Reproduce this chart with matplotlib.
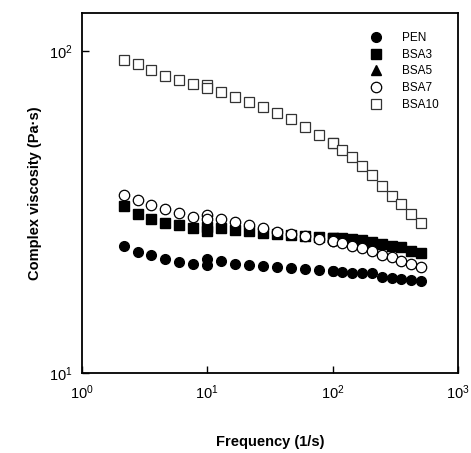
import matplotlib
matplotlib.use("Agg")
import matplotlib.pyplot as plt
from matplotlib.ticker import LogLocator, NullLocator

plt.rcParams['font.family'] = ['Liberation Sans', 'DejaVu Sans']
plt.rcParams['mathtext.fontset'] = 'custom'
plt.rcParams['mathtext.rm'] = 'Liberation Sans'

# three frequency sweeps: 2-10, 10-100, 100-500 1/s
freq = [2.15, 2.78, 3.59, 4.64, 5.99, 7.74, 10.0,
        10.0, 12.9, 16.7, 21.5, 27.8, 35.9, 46.4, 59.9, 77.4, 100.0,
        100.0, 120, 144, 173, 208, 250, 300, 355, 421, 506]

pen = [24.9, 23.8, 23.2, 22.6, 22.2, 21.8, 22.6,
       21.7, 22.3, 21.8, 21.7, 21.5, 21.4, 21.25, 21.05, 20.9, 20.75,
       20.8, 20.6, 20.5, 20.5, 20.4, 19.9, 19.7, 19.6, 19.5, 19.3]

bsa3 = [33.1, 31.1, 30.2, 29.3, 28.8, 28.3, 28.5,
        27.7, 28.2, 27.9, 27.6, 27.3, 27.1, 26.9, 26.7, 26.5, 26.3,
        26.3, 26.2, 26.05, 25.9, 25.6, 25.2, 24.9, 24.6, 24.0, 23.6]

bsa5 = []  # only shown in legend, no visible points

bsa7 = [35.7, 34.5, 33.3, 32.3, 31.5, 30.6, 31.0,
        30.2, 30.1, 29.5, 28.8, 28.2, 27.5, 27.0, 26.6, 26.1, 25.7,
        25.7, 25.3, 24.8, 24.4, 24.0, 23.3, 22.9, 22.3, 21.8, 21.4]

bsa10 = [93.8, 90.9, 87.4, 83.8, 81.2, 79.0, 78.5,
         76.5, 74.8, 72.1, 69.6, 66.8, 64.1, 61.4, 58.2, 54.8, 51.7,
         51.7, 49.3, 46.8, 44.0, 41.2, 38.1, 35.6, 33.4, 31.3, 29.3]

fig = plt.figure(figsize=(4.71, 4.53), dpi=100)
ax = fig.add_axes([0.174, 0.176, 0.798, 0.795])

ax.plot(freq, pen, 'o', color='black', markersize=7, linestyle='none', label='PEN')
ax.plot(freq, bsa3, 's', color='black', markersize=6.5, linestyle='none', label='BSA3')
ax.plot(bsa5, bsa5, '^', color='black', markersize=7, linestyle='none', label='BSA5')
ax.plot(freq, bsa7, 'o', mfc='white', mec='black', mew=0.9, markersize=7.5,
        linestyle='none', label='BSA7')
ax.plot(freq, bsa10, 's', mfc='white', mec='#333333', mew=0.9, markersize=7,
        linestyle='none', label='BSA10')

ax.set_xscale('log')
ax.set_yscale('log')
ax.set_xlim(1, 1000)
ax.set_ylim(10, 131)
ax.xaxis.set_major_locator(LogLocator(base=10))
ax.yaxis.set_major_locator(LogLocator(base=10))
ax.xaxis.set_minor_locator(NullLocator())
ax.yaxis.set_minor_locator(NullLocator())
ax.tick_params(direction='in', length=5, width=1, labelsize=10.5, pad=7)

for s in ax.spines.values():
    s.set_linewidth(1.3)

ax.set_xlabel('Frequency (1/s)', fontsize=10.5, fontweight='bold', labelpad=24)
ax.set_ylabel('Complex viscosity (Pa·s)', fontsize=10.5, fontweight='bold', labelpad=5)

ax.legend(loc='upper right', frameon=False, fontsize=8.5, handletextpad=1.2,
          labelspacing=0.4, borderaxespad=1.2)

fig.savefig('out.png', dpi=100)
